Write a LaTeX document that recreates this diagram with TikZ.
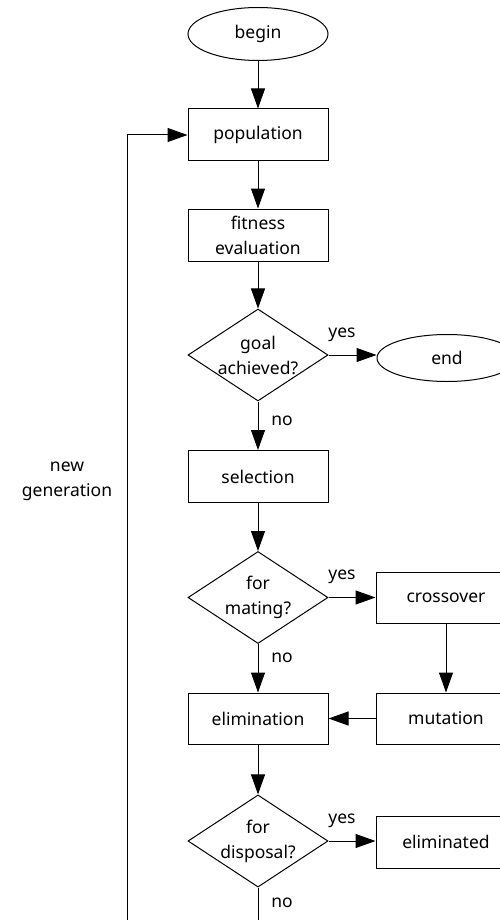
\documentclass[tikz,border=0pt]{standalone}
\usepackage{fontspec}
\setmainfont{Noto Sans}
\usetikzlibrary{shapes.geometric,arrows.meta}
\begin{document}
\begin{tikzpicture}[x=1pt,y=-1pt,
  every node/.style={font=\fontsize{17.5}{25}\selectfont, align=center},
  box/.style={draw, line width=1pt, rectangle, minimum width=140pt, minimum height=52pt, inner sep=0pt},
  term/.style={draw, line width=1pt, ellipse, minimum width=140pt, minimum height=53pt, inner sep=0pt},
  decide/.style={draw, line width=1pt, diamond, minimum width=140pt, minimum height=92pt, inner sep=0pt, aspect=1.52},
  lbl/.style={inner sep=0pt},
  conn/.style={line width=1pt, -{Triangle[length=20pt,width=14pt]}},
  plain/.style={line width=1pt}
]
\useasboundingbox (0,0) rectangle (500,920);
\node[term] (begin) at (258,34) {begin};
\node[box] (pop) at (258,135) {population};
\node[box] (fit) at (258,235) {fitness\\evaluation};
\node[decide] (goal) at (258,355) {goal\\achieved?};
\node[term, minimum height=47pt] (end) at (447,358) {end};
\node[box] (sel) at (258,476.5) {selection};
\node[decide] (mate) at (258,597.5) {for\\mating?};
\node[box, minimum height=51pt] (cross) at (446,597.5) {crossover};
\node[box, minimum height=51pt] (elim) at (258,718.5) {elimination};
\node[box, minimum height=51pt] (mut) at (446,718.5) {mutation};
\node[decide] (disp) at (258,841) {for\\disposal?};
\node[box] (gone) at (446,842) {eliminated};

\node[lbl] (y1) at (342,335) {yes};
\node[lbl] (n1) at (282,421) {no};
\node[lbl] (y2) at (342,577) {yes};
\node[lbl] (n2) at (282,658) {no};
\node[lbl] (y3) at (342,821) {yes};
\node[lbl] (n3) at (282,903) {no};
\node[lbl] (gen) at (67,481) {new\\generation};

\coordinate (b1) at (258,960);
\coordinate (b2) at (127,960);
\coordinate (b3) at (127,135);

\draw[conn] (begin) -- (pop);
\draw[conn] (pop) -- (fit);
\draw[conn] (fit) -- (goal);
\draw[conn] (goal) -- (end.west |- goal.east);
\draw[conn] (goal) -- (sel);
\draw[conn] (sel) -- (mate);
\draw[conn] (mate) -- (cross.west |- mate.east);
\draw[conn] (mate) -- (elim);
\draw[conn] (cross) -- (mut);
\draw[conn] (mut) -- (elim);
\draw[conn] (elim) -- (disp);
\draw[conn] (disp) -- (gone.west |- disp.east);
\draw[plain] (disp.south) -- (b1) -- (b2) -- (b3);
\draw[conn] (b3) -- (pop.west);
\end{tikzpicture}
\end{document}
